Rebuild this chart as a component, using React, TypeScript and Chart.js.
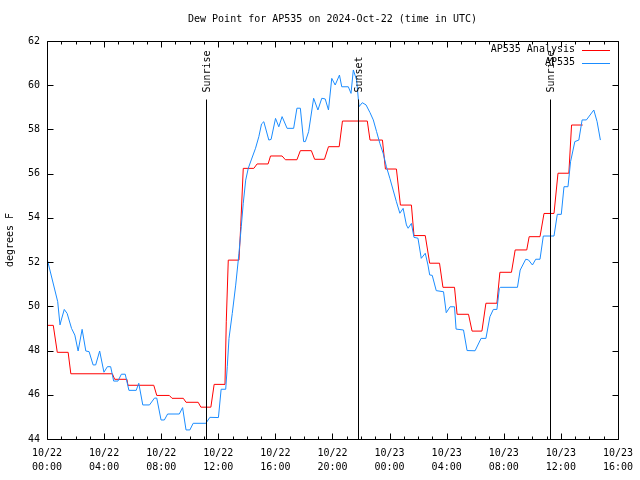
import React, { useEffect, useRef } from 'react';
import { Chart, registerables } from 'chart.js';

Chart.register(...registerables);

const chartTitle = 'Dew Point for AP535 on 2024-Oct-22 (time in UTC)';
const yAxisTitle = 'degrees F';
const seriesNames = ['AP535 Analysis', 'AP535'];

const xTickDays = ['10/22', '10/22', '10/22', '10/22', '10/22', '10/22', '10/23', '10/23', '10/23', '10/23', '10/23'];
const xTickTimes = ['00:00', '04:00', '08:00', '12:00', '16:00', '20:00', '00:00', '04:00', '08:00', '12:00', '16:00'];

const eventLabels = ['Sunrise', 'Sunset', 'Sunrise'];
const eventHours = [11.17, 21.76, 35.21];

// hours since 10/22 00:00 UTC
const analysisHours = [
  0, 0.44, 0.72, 1.48, 1.67, 4.58, 4.74, 5.6, 5.67, 7.48, 7.69, 8.57, 8.76, 9.55, 9.74, 10.59, 10.78, 11.48,
  11.71, 12.47, 12.56, 12.7, 13.45, 13.57, 13.75, 14.49, 14.72, 15.49, 15.66, 16.47, 16.7, 17.51, 17.75,
  18.52, 18.75, 19.44, 19.72, 20.47, 20.7, 22.44, 22.63, 23.5, 23.71, 24.48, 24.76, 25.53, 25.71, 26.5,
  26.81, 27.5, 27.74, 28.55, 28.73, 29.53, 29.78, 30.47, 30.75, 31.52, 31.73, 32.54, 32.8, 33.61, 33.78,
  34.54, 34.82, 35.52, 35.8, 36.56, 36.75, 37.53,
];
const analysisValues = [
  49.14, 49.14, 47.92, 47.92, 46.95, 46.95, 46.7, 46.7, 46.43, 46.43, 45.97, 45.97, 45.84, 45.84, 45.66, 45.66,
  45.44, 45.44, 46.47, 46.47, 49.3, 52.09, 52.09, 53.6, 56.24, 56.24, 56.44, 56.44, 56.8, 56.8, 56.63, 56.63,
  57.04, 57.04, 56.65, 56.65, 57.22, 57.22, 58.38, 58.38, 57.52, 57.52, 56.21, 56.21, 54.58, 54.58, 53.2,
  53.2, 51.95, 51.95, 50.86, 50.86, 49.64, 49.64, 48.88, 48.88, 50.14, 50.14, 51.54, 51.54, 52.55, 52.55,
  53.15, 53.15, 54.2, 54.2, 56.02, 56.02, 58.2, 58.2,
];

const stationHours = [
  0, 0.75, 0.91, 1.0, 1.21, 1.41, 1.72, 1.95, 2.18, 2.46, 2.72, 2.95, 3.23, 3.41, 3.69, 3.99, 4.23, 4.46,
  4.67, 4.97, 5.21, 5.48, 5.74, 6.25, 6.43, 6.71, 7.18, 7.53, 7.69, 7.99, 8.22, 8.45, 9.27, 9.5, 9.74, 10.01,
  10.24, 11.13, 11.41, 12.01, 12.2, 12.52, 12.63, 12.75, 12.98, 13.22, 13.45, 13.61, 13.75, 13.92, 14.1,
  14.31, 14.61, 14.84, 15.03, 15.19, 15.54, 15.7, 16.01, 16.24, 16.47, 16.82, 17.28, 17.51, 17.75, 17.98,
  18.1, 18.33, 18.68, 18.98, 19.25, 19.49, 19.72, 19.95, 20.19, 20.49, 20.65, 21.11, 21.3, 21.46, 21.69,
  21.86, 22.09, 22.35, 22.63, 22.86, 23.09, 23.32, 23.55, 23.78, 24.02, 24.25, 24.48, 24.72, 24.95, 25.18,
  25.3, 25.53, 25.71, 25.99, 26.22, 26.5, 26.69, 26.81, 26.99, 27.27, 27.78, 27.97, 28.24, 28.55, 28.66,
  29.18, 29.43, 29.99, 30.41, 30.75, 31.03, 31.27, 31.52, 31.69, 31.76, 32.96, 33.15, 33.54, 33.73, 34.01,
  34.24, 34.54, 34.77, 35.52, 35.75, 36.03, 36.22, 36.5, 36.68, 36.98, 37.26, 37.49, 37.79, 38.31, 38.54,
  38.77,
];
const stationValues = [
  52.17, 50.21, 49.16, 49.38, 49.86, 49.68, 49.0, 48.7, 47.98, 48.96, 47.98, 47.95, 47.35, 47.35, 47.98,
  47.02, 47.27, 47.27, 46.62, 46.62, 46.93, 46.93, 46.2, 46.2, 46.52, 45.54, 45.54, 45.85, 45.85, 44.86,
  44.86, 45.13, 45.13, 45.42, 44.41, 44.41, 44.71, 44.71, 44.98, 44.97, 46.25, 46.25, 47.27, 48.55, 49.68,
  50.96, 52.4, 53.6, 54.66, 55.71, 56.24, 56.62, 57.15, 57.67, 58.25, 58.35, 57.52, 57.55, 58.5, 58.12,
  58.58, 58.05, 58.05, 58.96, 58.96, 57.45, 57.45, 57.9, 59.41, 58.88, 59.41, 59.38, 58.88, 60.31, 60.01,
  60.46, 59.93, 59.93, 59.63, 60.69, 60.24, 59.03, 59.21, 59.11, 58.76, 58.43, 57.9, 57.37, 56.92, 56.31,
  55.79, 55.26, 54.73, 54.21, 54.43, 53.68, 53.53, 53.75, 53.12, 53.08, 52.17, 52.4, 51.87, 51.42, 51.4,
  50.71, 50.66, 49.71, 49.98, 49.98, 48.97, 48.93, 48.0, 47.99, 48.55, 48.55, 49.53, 49.86, 49.86, 50.81,
  50.86, 50.86, 51.64, 52.13, 52.1, 51.87, 52.13, 52.13, 53.18, 53.18, 54.16, 54.16, 55.41, 55.41, 56.54,
  57.45, 57.52, 58.43, 58.43, 58.88, 58.35, 57.52,
];

const FONT = '"DejaVu Sans Mono", "Liberation Mono", monospace';
const FS = 10;
const RED = '#ff0000';
const BLUE = '#1a8cff';

const decorPlugin = {
  id: 'decor',
  afterDatasetsDraw(chart: any) {
    const { ctx, chartArea: a, scales } = chart;
    const xs = scales.x;
    const ys = scales.y;
    const L = Math.round(a.left) + 0.5;
    const R = Math.round(a.right) + 0.5;
    const T = Math.round(a.top) + 0.5;
    const B = Math.round(a.bottom) + 0.5;
    ctx.save();
    ctx.strokeStyle = '#000';
    ctx.fillStyle = '#000';
    ctx.lineWidth = 1;
    ctx.font = `${FS}px ${FONT}`;

    // sunrise / sunset markers
    eventHours.forEach((h, i) => {
      const px = Math.round(xs.getPixelForValue(h)) + 0.5;
      ctx.beginPath();
      ctx.moveTo(px, T + 58);
      ctx.lineTo(px, B);
      ctx.stroke();
      ctx.save();
      ctx.translate(px + 1, T + 51);
      ctx.rotate(-Math.PI / 2);
      ctx.textAlign = 'left';
      ctx.textBaseline = 'middle';
      ctx.fillText(eventLabels[i], 0, 0);
      ctx.restore();
    });

    // border
    ctx.beginPath();
    ctx.rect(L, T, R - L, B - T);
    ctx.stroke();

    // ticks (inward, mirrored)
    ctx.beginPath();
    for (let h = 0; h <= 40; h++) {
      const px = Math.round(xs.getPixelForValue(h)) + 0.5;
      const len = h % 4 === 0 ? 6 : 3;
      ctx.moveTo(px, B);
      ctx.lineTo(px, B - len);
      ctx.moveTo(px, T);
      ctx.lineTo(px, T + len);
    }
    for (let v = 44; v <= 62; v += 2) {
      const py = Math.round(ys.getPixelForValue(v)) + 0.5;
      ctx.moveTo(L, py);
      ctx.lineTo(L + 6, py);
      ctx.moveTo(R, py);
      ctx.lineTo(R - 6, py);
    }
    ctx.stroke();

    // legend
    const colors = [RED, BLUE];
    chart.data.datasets.forEach((ds: any, i: number) => {
      const y = T + 8 + i * 13;
      ctx.fillStyle = '#000';
      ctx.textAlign = 'right';
      ctx.textBaseline = 'middle';
      ctx.fillText(ds.label, 575, y);
      ctx.strokeStyle = colors[i];
      ctx.beginPath();
      ctx.moveTo(582, Math.round(y) + 0.5);
      ctx.lineTo(610, Math.round(y) + 0.5);
      ctx.stroke();
    });
    ctx.restore();
  },
};

export default function App() {
  const ref = useRef<HTMLCanvasElement | null>(null);

  useEffect(() => {
    if (!ref.current) return;
    const chart = new Chart(ref.current, {
      type: 'line',
      data: {
        datasets: [
          {
            label: seriesNames[0],
            data: analysisHours.map((h, i) => ({ x: h, y: analysisValues[i] })),
            borderColor: RED,
            borderWidth: 1,
            pointRadius: 0,
            tension: 0,
            fill: false,
            order: 1,
          },
          {
            label: seriesNames[1],
            data: stationHours.map((h, i) => ({ x: h, y: stationValues[i] })),
            borderColor: BLUE,
            borderWidth: 1,
            pointRadius: 0,
            tension: 0,
            fill: false,
            order: 0,
          },
        ],
      },
      options: {
        animation: false,
        responsive: false,
        maintainAspectRatio: false,
        devicePixelRatio: 1,
        layout: { padding: { left: 0, right: 19, top: 0, bottom: 0 } },
        plugins: {
          legend: { display: false },
          tooltip: { enabled: false },
          title: {
            display: true,
            text: chartTitle,
            fullSize: false,
            color: '#000',
            font: { family: FONT, size: FS, weight: 'normal', lineHeight: 1.2 },
            padding: { top: 13, bottom: 16 },
          },
        },
        scales: {
          x: {
            type: 'linear',
            min: 0,
            max: 40,
            grid: { display: false, drawTicks: false },
            border: { display: false },
            ticks: {
              stepSize: 4,
              autoSkip: false,
              maxRotation: 0,
              minRotation: 0,
              padding: 7,
              color: '#000',
              font: { family: FONT, size: FS, lineHeight: 1.4 },
              callback: (value: any) => {
                const i = Math.round(Number(value) / 4);
                return [xTickDays[i], xTickTimes[i]];
              },
            },
            afterFit: (scale: any) => {
              scale.height = 41;
            },
          },
          y: {
            type: 'linear',
            min: 44,
            max: 62,
            grid: { display: false, drawTicks: false },
            border: { display: false },
            ticks: {
              stepSize: 2,
              padding: 7,
              color: '#000',
              font: { family: FONT, size: FS },
            },
            title: {
              display: true,
              text: yAxisTitle,
              color: '#000',
              font: { family: FONT, size: FS, lineHeight: 1.2 },
              padding: { top: 4, bottom: 0 },
            },
            afterFit: (scale: any) => {
              scale.width = 47;
            },
          },
        },
      },
      plugins: [decorPlugin],
    });
    return () => chart.destroy();
  }, []);

  return (
    <div style={{ position: 'absolute', left: 0, top: 0, width: 640, height: 480, background: '#fff' }}>
      <canvas ref={ref} width={640} height={480} />
    </div>
  );
}
